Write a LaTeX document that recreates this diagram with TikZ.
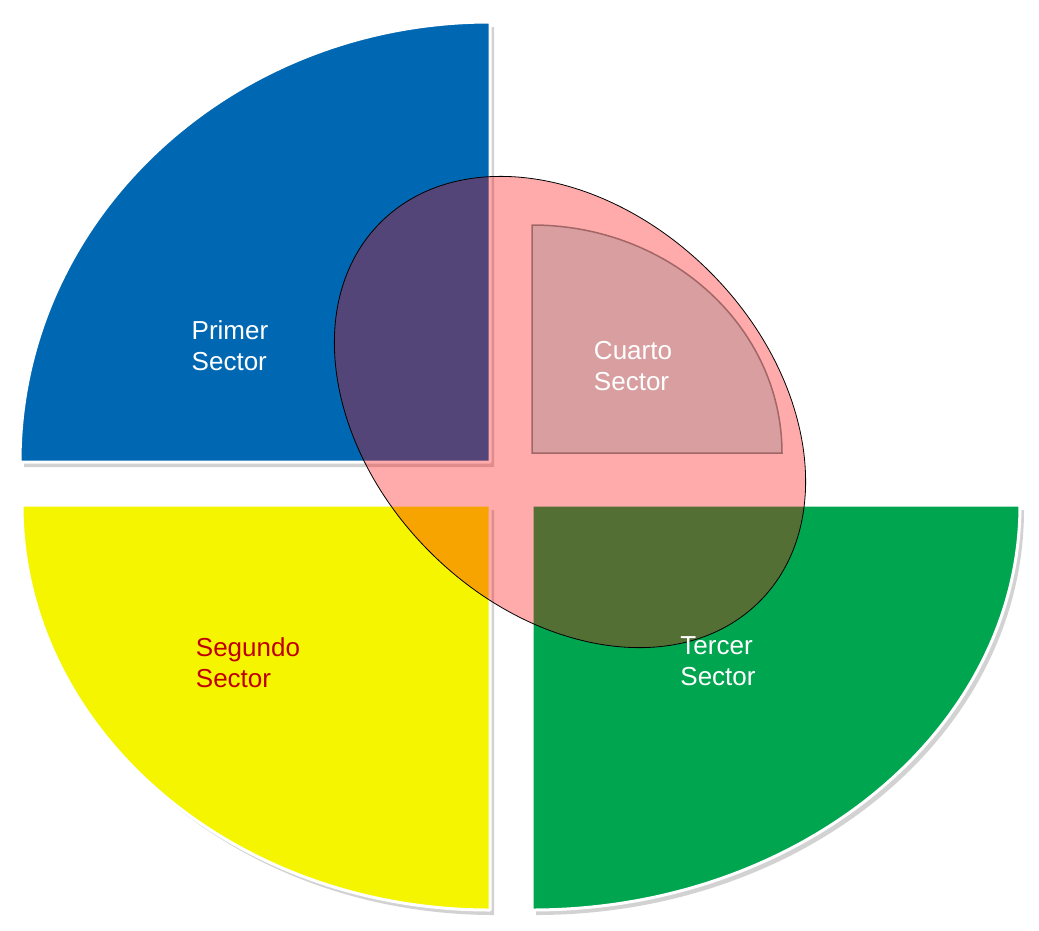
\documentclass[tikz,border=0pt]{standalone}
\usepackage{fontspec}
\setmainfont{Liberation Sans}
\usetikzlibrary{shapes.geometric}
\begin{document}
\begin{tikzpicture}[x=1pt,y=-1pt,
  sect/.style={draw=white,line width=3pt,line join=round},
  shad/.style={fill=black!35,opacity=0.5},
  lab/.style={text=white,font=\fontsize{26}{31}\selectfont,align=left}]
\useasboundingbox (0,0) rectangle (1039,930);
\definecolor{cblue}{HTML}{0067B3}
\definecolor{cyel}{HTML}{F5F500}
\definecolor{cgreen}{HTML}{00A64F}
\definecolor{cpink}{HTML}{D89EA0}
\definecolor{cred}{HTML}{C00000}
\fill[shad] (494,467) -- (24,467) arc[start angle=180,end angle=270,x radius=470,y radius=440] -- cycle;
\fill[shad] (494,510) -- (26,510) arc[start angle=180,end angle=90,x radius=468,y radius=405] -- cycle;
\fill[shad] (536,510) -- (1024,510) arc[start angle=0,end angle=90,x radius=488,y radius=405] -- cycle;
\path[sect,fill=cblue] (490,462) -- (20,462) arc[start angle=180,end angle=270,x radius=470,y radius=440] -- cycle;
\path[sect,fill=cyel] (490,505) -- (22,505) arc[start angle=180,end angle=90,x radius=468,y radius=405] -- cycle;
\path[sect,fill=cgreen] (532,505) -- (1020,505) arc[start angle=0,end angle=90,x radius=488,y radius=405] -- cycle;
\node[draw=black,draw opacity=1,line width=0.8pt,fill=red,fill opacity=0.33,ellipse,minimum width=536pt,minimum height=396pt,inner sep=0pt,rotate=-45] (ell) at (570,412) {};
\path[draw=black!60!red!60,line width=1.5pt,fill=cpink] (532,453) -- (782,453) arc[start angle=0,end angle=-90,x radius=250,y radius=228] -- cycle;
\node[lab] (p) at (230,346) {Primer\\Sector};
\node[lab] (c) at (633,366) {Cuarto\\Sector};
\node[lab,text=cred] (s) at (248,663) {Segundo\\Sector};
\node[lab] (t) at (718,661) {Tercer\\Sector};
\end{tikzpicture}
\end{document}
